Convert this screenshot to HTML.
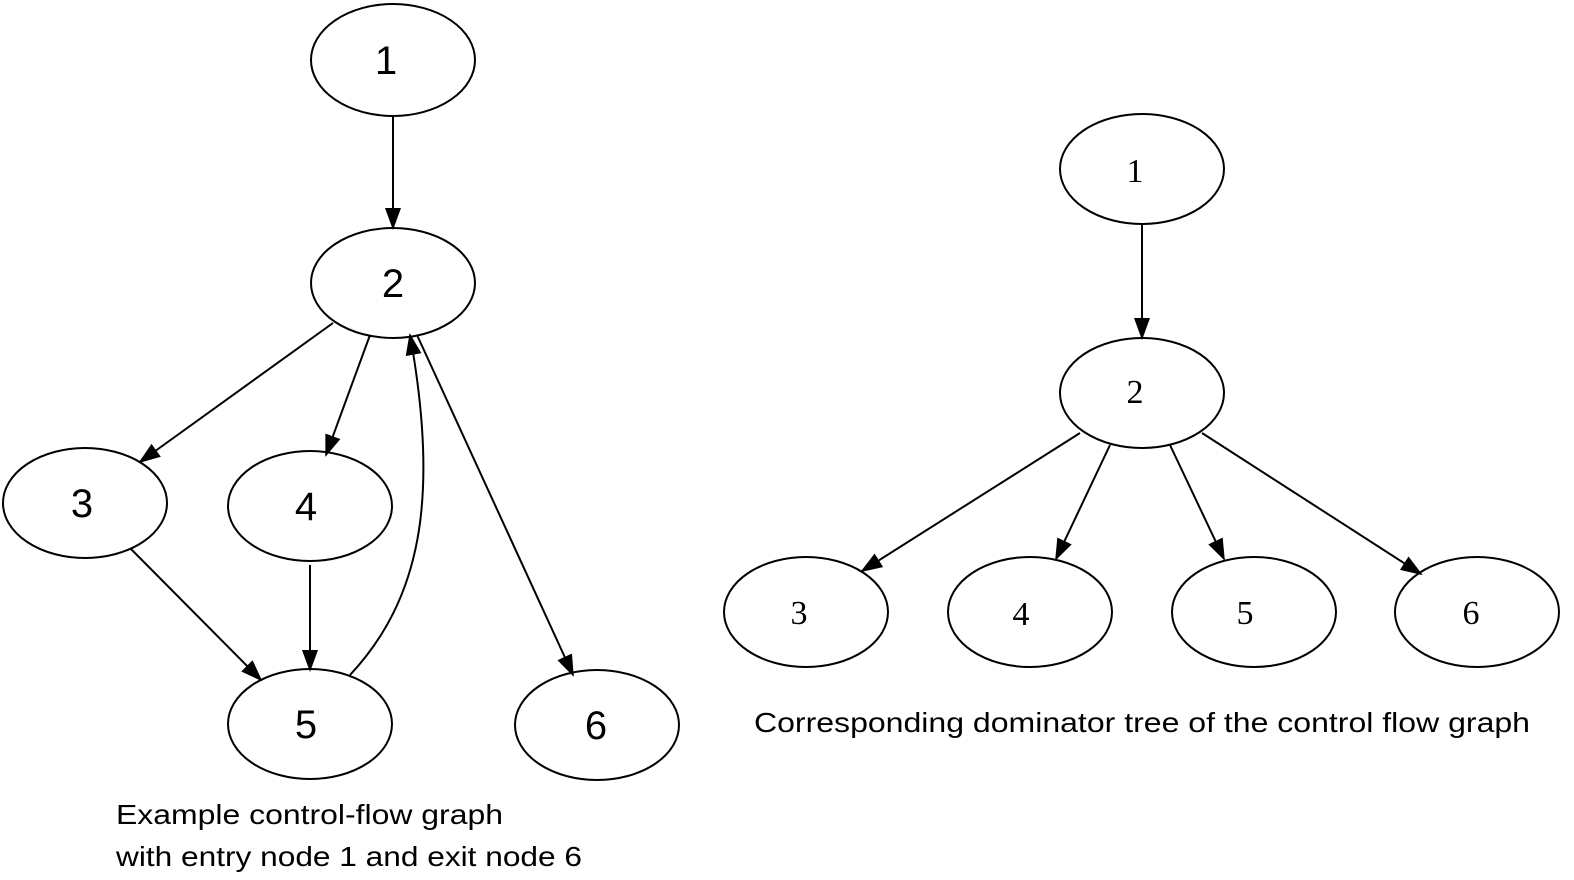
<!DOCTYPE html>
<html><head><meta charset="utf-8"><style>
html,body{margin:0;padding:0;background:#fff;}
svg{display:block}
</style></head><body>
<svg width="1574" height="880" viewBox="0 0 1574 880" xmlns="http://www.w3.org/2000/svg">
<defs>
<marker id="a" markerWidth="22" markerHeight="16" refX="20" refY="8" orient="auto" markerUnits="userSpaceOnUse">
<path d="M0,0 L22,8 L0,16 Z" fill="#000"/>
</marker>
</defs>
<g fill="none" stroke="#000" stroke-width="2">
<ellipse cx="393" cy="60" rx="82" ry="56"/>
<ellipse cx="393" cy="283" rx="82" ry="55"/>
<ellipse cx="85" cy="503" rx="82" ry="55"/>
<ellipse cx="310" cy="506" rx="82" ry="55"/>
<ellipse cx="310" cy="724" rx="82" ry="55"/>
<ellipse cx="597" cy="725" rx="82" ry="55"/>
<ellipse cx="1142" cy="169" rx="82" ry="55"/>
<ellipse cx="1142" cy="393" rx="82" ry="55"/>
<ellipse cx="806" cy="612" rx="82" ry="55"/>
<ellipse cx="1030" cy="612" rx="82" ry="55"/>
<ellipse cx="1254" cy="612" rx="82" ry="55"/>
<ellipse cx="1477" cy="612" rx="82" ry="55"/>
<g marker-end="url(#a)">
<line x1="393" y1="116" x2="393" y2="228"/>
<line x1="333" y1="323" x2="140" y2="462"/>
<line x1="370" y1="335" x2="326" y2="455"/>
<path d="M350,675 C420,600 440,500 410,335"/>
<line x1="417" y1="335" x2="573" y2="675"/>
<line x1="130" y1="548" x2="261" y2="680"/>
<line x1="310" y1="565" x2="310" y2="670"/>
<line x1="1142" y1="225" x2="1142" y2="338"/>
<line x1="1080" y1="433" x2="862" y2="571"/>
<line x1="1110" y1="445" x2="1056" y2="559"/>
<line x1="1170" y1="445" x2="1224" y2="559"/>
<line x1="1202" y1="433" x2="1421" y2="574"/>
</g>
</g>
<g font-family="Liberation Sans, sans-serif" font-size="40" text-anchor="middle" fill="#000">
<text x="386" y="74">1</text>
<text x="393" y="297">2</text>
<text x="82" y="517">3</text>
<text x="306" y="520">4</text>
<text x="306" y="738">5</text>
<text x="596" y="739">6</text>
</g>
<g font-family="Liberation Serif, serif" font-size="34" text-anchor="middle" fill="#000">
<text x="1135" y="182">1</text>
<text x="1135" y="403">2</text>
<text x="799" y="624">3</text>
<text x="1021" y="625">4</text>
<text x="1245" y="624">5</text>
<text x="1471" y="624">6</text>
</g>
<g font-family="Liberation Sans, sans-serif" font-size="28" fill="#000">
<text x="116" y="824" textLength="387" lengthAdjust="spacingAndGlyphs">Example control-flow graph</text>
<text x="116" y="866" textLength="466" lengthAdjust="spacingAndGlyphs">with entry node 1 and exit node 6</text>
<text x="754" y="732" textLength="776" lengthAdjust="spacingAndGlyphs">Corresponding dominator tree of the control flow graph</text>
</g>
</svg>
</body></html>
